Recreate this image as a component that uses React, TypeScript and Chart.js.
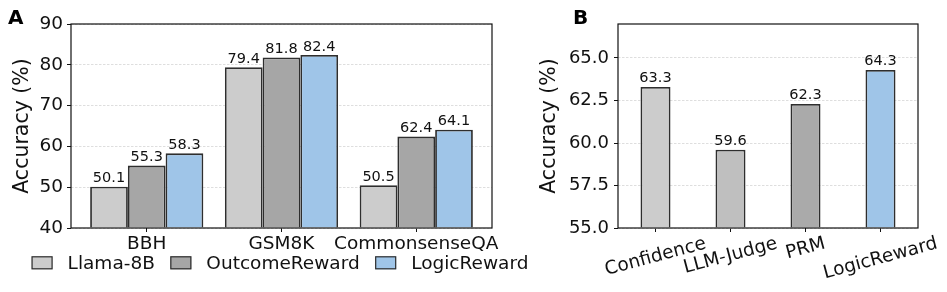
import React, { useEffect, useRef } from 'react';
import { Chart, registerables } from 'chart.js';

Chart.register(...registerables);

const FONT_FAMILY = '"DejaVu Sans", "Liberation Sans", sans-serif';

// ---------- Panel A data ----------
const categoriesA = ['BBH', 'GSM8K', 'CommonsenseQA'];
const seriesNamesA = ['Llama-8B', 'OutcomeReward', 'LogicReward'];
const llamaValues = [50.1, 79.4, 50.5];
const outcomeValues = [55.3, 81.8, 62.4];
const logicValues = [58.3, 82.4, 64.1];
const seriesColorsA = ['#cccccc', '#a6a6a6', '#9fc5e8'];
const yTicksA = [40, 50, 60, 70, 80, 90];

// ---------- Panel B data ----------
const methodsB = ['Confidence', 'LLM-Judge', 'PRM', 'LogicReward'];
const accuracyB = [63.3, 59.6, 62.3, 64.3];
const colorsB = ['#cccccc', '#bfbfbf', '#aaaaaa', '#9fc5e8'];
const yTicksB = [55, 57.5, 60, 62.5, 65];

const EDGE = '#2e2e2e';

function drawFrame(chart: any) {
  const { ctx, chartArea } = chart;
  ctx.save();
  ctx.strokeStyle = '#111111';
  ctx.lineWidth = 1.2;
  ctx.strokeRect(chartArea.left, chartArea.top, chartArea.right - chartArea.left, chartArea.bottom - chartArea.top);
  ctx.restore();
}

function drawValueLabels(chart: any, fmt: (v: number) => string) {
  const { ctx } = chart;
  ctx.save();
  ctx.font = `14.5px ${FONT_FAMILY}`;
  ctx.fillStyle = '#111111';
  ctx.textAlign = 'center';
  ctx.textBaseline = 'alphabetic';
  chart.data.datasets.forEach((ds: any, di: number) => {
    const meta = chart.getDatasetMeta(di);
    meta.data.forEach((el: any, i: number) => {
      const raw = ds.data[i];
      const v = typeof raw === 'number' ? raw : raw.y;
      ctx.fillText(fmt(v), el.x, el.y - 4.5);
    });
  });
  ctx.restore();
}

function drawPanelLetter(chart: any, letter: string, x: number) {
  const { ctx } = chart;
  ctx.save();
  ctx.font = `bold 20px ${FONT_FAMILY}`;
  ctx.fillStyle = '#000000';
  ctx.textAlign = 'left';
  ctx.textBaseline = 'alphabetic';
  ctx.fillText(letter, x, 24);
  ctx.restore();
}

const panelAPlugin = {
  id: 'panelA',
  afterDatasetsDraw(chart: any) {
    drawValueLabels(chart, (v) => v.toFixed(1));
    drawFrame(chart);
  },
  afterDraw(chart: any) {
    const { ctx, chartArea } = chart;
    drawPanelLetter(chart, 'A', 8);
    // legend
    ctx.save();
    const fs = 18.5;
    ctx.font = `${fs}px ${FONT_FAMILY}`;
    const boxW = 21;
    const boxH = 13;
    const gapBoxText = 15;
    const gapItems = 15.5;
    const widths = seriesNamesA.map((n) => ctx.measureText(n).width);
    const total =
      widths.reduce((s, w) => s + boxW + gapBoxText + w, 0) + gapItems * (seriesNamesA.length - 1);
    let x = (chartArea.left + chartArea.right) / 2 - total / 2 - 1.5;
    const boxTop = 256.3;
    const baseline = 269.3;
    seriesNamesA.forEach((name, i) => {
      ctx.fillStyle = seriesColorsA[i];
      ctx.fillRect(x, boxTop, boxW, boxH);
      ctx.strokeStyle = EDGE;
      ctx.lineWidth = 1.2;
      ctx.strokeRect(x + 0.5, boxTop + 0.5, boxW - 1, boxH - 1);
      ctx.fillStyle = '#111111';
      ctx.textAlign = 'left';
      ctx.textBaseline = 'alphabetic';
      ctx.fillText(name, x + boxW + gapBoxText, baseline);
      x += boxW + gapBoxText + widths[i] + gapItems;
    });
    ctx.restore();
  },
};

const panelBPlugin = {
  id: 'panelB',
  afterDatasetsDraw(chart: any) {
    drawValueLabels(chart, (v) => v.toFixed(1));
    drawFrame(chart);
  },
  afterDraw(chart: any) {
    const { ctx } = chart;
    drawPanelLetter(chart, 'B', 43);
    const xScale = chart.scales.x;
    const fs = 18.5;
    const ang = (15 * Math.PI) / 180;
    ctx.save();
    ctx.font = `${fs}px ${FONT_FAMILY}`;
    ctx.fillStyle = '#111111';
    ctx.textAlign = 'center';
    ctx.textBaseline = 'middle';
    methodsB.forEach((label, i) => {
      const px = xScale.getPixelForValue(i);
      const w = ctx.measureText(label).width;
      const h = fs * 1.164;
      const H = w * Math.sin(ang) + h * Math.cos(ang);
      const cy = 233 + H / 2;
      ctx.save();
      ctx.translate(px, cy);
      ctx.rotate(-ang);
      ctx.fillText(label, 0, 0);
      ctx.restore();
    });
    ctx.restore();
  },
};

function configA(): any {
  const seriesValues = [llamaValues, outcomeValues, logicValues];
  return {
    type: 'bar',
    data: {
      datasets: seriesNamesA.map((name, si) => ({
        label: name,
        data: seriesValues[si].map((v, i) => ({ x: i, y: v })),
        backgroundColor: seriesColorsA[si],
        borderColor: EDGE,
        borderWidth: 1.8,
        borderSkipped: 'start',
        base: yTicksA[0],
        categoryPercentage: 0.84,
        barPercentage: 1,
      })),
    },
    options: {
      animation: false,
      responsive: false,
      maintainAspectRatio: false,
      layout: { padding: { left: 0, top: 24, right: 48, bottom: 0 } },
      plugins: { legend: { display: false }, tooltip: { enabled: false }, title: { display: false } },
      scales: {
        x: {
          type: 'linear',
          min: -0.562,
          max: 2.562,
          offset: false,
          afterBuildTicks: (s: any) => {
            s.ticks = categoriesA.map((_, i) => ({ value: i }));
          },
          afterFit: (s: any) => {
            s.height = 64;
          },
          ticks: {
            callback: (v: any) => categoriesA[Math.round(Number(v))],
            font: { family: FONT_FAMILY, size: 18.5 },
            color: '#111111',
            padding: 1,
            autoSkip: false,
            maxRotation: 0,
            minRotation: 0,
          },
          grid: {
            offset: false,
            drawOnChartArea: false,
            drawTicks: true,
            tickLength: 4,
            tickColor: '#111111',
            tickWidth: 1,
          },
          border: { display: false },
        },
        y: {
          type: 'linear',
          min: yTicksA[0],
          max: yTicksA[yTicksA.length - 1],
          afterBuildTicks: (s: any) => {
            s.ticks = yTicksA.map((v) => ({ value: v }));
          },
          afterFit: (s: any) => {
            s.width = 71;
          },
          ticks: {
            font: { family: FONT_FAMILY, size: 18.5 },
            color: '#111111',
            padding: 4,
            callback: (v: any) => String(v),
          },
          grid: {
            color: '#d6d6d6',
            lineWidth: 0.8,
            drawTicks: true,
            tickLength: 4,
            tickColor: '#111111',
            tickWidth: 1,
            tickBorderDash: [],
          },
          border: { display: false, dash: [2.5, 1.5] },
          title: {
            display: true,
            text: 'Accuracy (%)',
            font: { family: FONT_FAMILY, size: 20.5 },
            color: '#111111',
            padding: { top: 10, bottom: 0 },
          },
        },
      },
    },
    plugins: [panelAPlugin],
  };
}

function configB(): any {
  return {
    type: 'bar',
    data: {
      labels: methodsB,
      datasets: [
        {
          label: 'Accuracy',
          data: accuracyB,
          backgroundColor: colorsB,
          borderColor: EDGE,
          borderWidth: 1.8,
          borderSkipped: 'start',
          base: yTicksB[0],
          categoryPercentage: 0.4,
          barPercentage: 1,
        },
      ],
    },
    options: {
      animation: false,
      responsive: false,
      maintainAspectRatio: false,
      layout: { padding: { left: 0, top: 24, right: 29, bottom: 0 } },
      plugins: { legend: { display: false }, tooltip: { enabled: false }, title: { display: false } },
      scales: {
        x: {
          type: 'category',
          offset: true,
          afterFit: (s: any) => {
            s.height = 64;
          },
          ticks: { display: false },
          grid: {
            offset: false,
            drawOnChartArea: false,
            drawTicks: true,
            tickLength: 4,
            tickColor: '#111111',
            tickWidth: 1,
          },
          border: { display: false },
        },
        y: {
          type: 'linear',
          min: 55,
          max: 67,
          afterBuildTicks: (s: any) => {
            s.ticks = yTicksB.map((v) => ({ value: v }));
          },
          afterFit: (s: any) => {
            s.width = 88;
          },
          ticks: {
            font: { family: FONT_FAMILY, size: 18 },
            color: '#111111',
            padding: 5,
            callback: (v: any) => Number(v).toFixed(1),
          },
          grid: {
            color: '#d6d6d6',
            lineWidth: 0.8,
            drawTicks: true,
            tickLength: 4,
            tickColor: '#111111',
            tickWidth: 1,
            tickBorderDash: [],
          },
          border: { display: false, dash: [2.5, 1.5] },
          title: {
            display: true,
            text: 'Accuracy (%)',
            font: { family: FONT_FAMILY, size: 20.5 },
            color: '#111111',
            padding: { top: 7.7, bottom: 0 },
          },
        },
      },
    },
    plugins: [panelBPlugin],
  };
}

export default function App() {
  const refA = useRef<HTMLCanvasElement>(null);
  const refB = useRef<HTMLCanvasElement>(null);
  useEffect(() => {
    const a = new Chart(refA.current as HTMLCanvasElement, configA());
    const b = new Chart(refB.current as HTMLCanvasElement, configB());
    return () => {
      a.destroy();
      b.destroy();
    };
  }, []);
  return (
    <div style={{ position: 'absolute', left: 0, top: 0, width: 947, height: 292, background: '#ffffff' }}>
      <canvas ref={refA} width={540} height={292} style={{ position: 'absolute', left: 0, top: 0 }} />
      <canvas ref={refB} width={417} height={292} style={{ position: 'absolute', left: 530, top: 0 }} />
    </div>
  );
}
